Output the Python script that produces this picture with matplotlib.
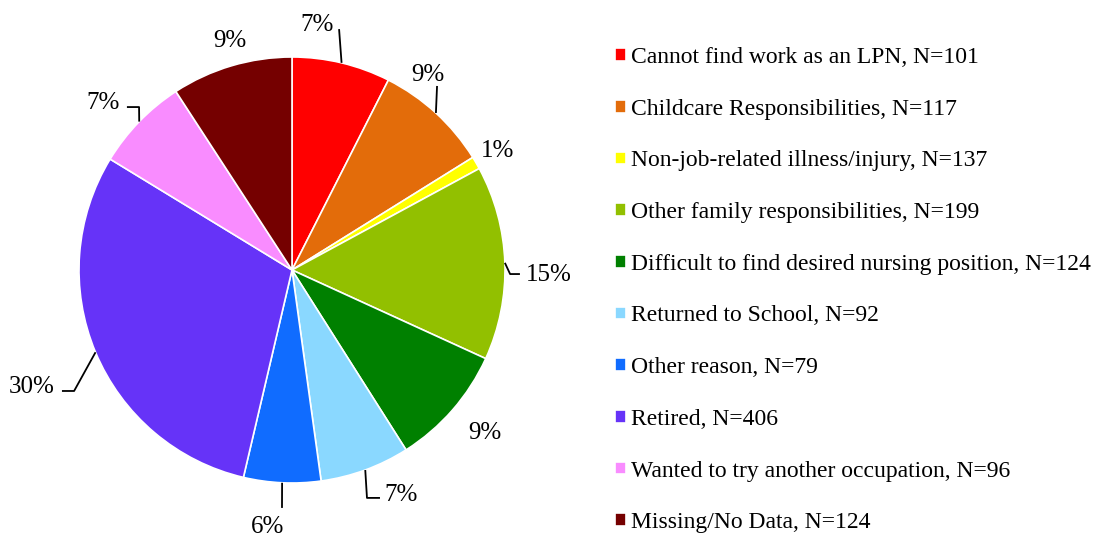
import matplotlib
matplotlib.use("Agg")
import matplotlib.pyplot as plt
import numpy as np

plt.rcParams['font.family'] = ['Liberation Serif', 'DejaVu Serif']

categories = [
    "Cannot find work as an LPN, N=101",
    "Childcare Responsibilities, N=117",
    "Non-job-related illness/injury, N=137",
    "Other family responsibilities, N=199",
    "Difficult to find desired nursing position, N=124",
    "Returned to School, N=92",
    "Other reason, N=79",
    "Retired, N=406",
    "Wanted to try another occupation, N=96",
    "Missing/No Data, N=124",
]
# slice sizes (illness slice is ~1%)
values = [101, 117, 13, 199, 124, 92, 79, 406, 96, 124]
pct_labels = ["7%", "9%", "1%", "15%", "9%", "7%", "6%", "30%", "7%", "9%"]
colors = ["#FF0000", "#E36C0A", "#FFFF00", "#92C000", "#008000",
          "#8AD8FF", "#106CFF", "#6633F8", "#F98CFF", "#750000"]

W, H, DPI = 1110, 537, 100
fig = plt.figure(figsize=(W / DPI, H / DPI), dpi=DPI)
ax = fig.add_axes([0, 0, 1, 1])
cx, cy, R = 292, 270, 213

wedges, _ = ax.pie(values, colors=colors, startangle=90, counterclock=False,
                   radius=1.0, center=(0, 0), frame=True,
                   wedgeprops=dict(edgecolor='white', linewidth=1.2))
ax.set_xlim(-cx / R, (W - cx) / R)
ax.set_ylim(-(H - cy) / R, cy / R)
ax.set_aspect('equal')
ax.axis('off')

# label layout: text position (radius units), alignment, leader polyline points after edge
layout = [
    dict(t=(0.117, 1.150), ha='center', line=[(0.221, 1.131)]),
    dict(t=(0.638, 0.916), ha='center', line=[(0.681, 0.864)]),
    dict(t=(0.967, 0.559), ha='center', line=None),
    dict(t=(1.099, -0.024), ha='left', line=[(1.024, -0.019), (1.070, -0.019)]),
    dict(t=(0.906, -0.765), ha='center', line=None),
    dict(t=(0.432, -1.054), ha='left', line=[(0.352, -1.070), (0.413, -1.070)]),
    dict(t=(-0.113, -1.205), ha='center', line=[(-0.047, -1.117)]),
    dict(t=(-1.113, -0.549), ha='right', line=[(-1.023, -0.568), (-1.080, -0.568)]),
    dict(t=(-0.808, 0.786), ha='right', line=[(-0.718, 0.765), (-0.775, 0.765)]),
    dict(t=(-0.291, 1.075), ha='center', line=None),
]

for w, lab, lo in zip(wedges, pct_labels, layout):
    mid = np.deg2rad((w.theta1 + w.theta2) / 2)
    ex, ey = np.cos(mid), np.sin(mid)
    if lo['line']:
        pts = [(ex, ey)] + lo['line']
        xs, ys = zip(*pts)
        ax.plot(xs, ys, color='black', lw=1.3, solid_capstyle='butt')
    ax.text(lo['t'][0], lo['t'][1], lab, ha=lo['ha'], va='center', fontsize=18)

leg = fig.legend(wedges, categories, loc='upper left',
                 bbox_to_anchor=(615 / W, 1 - 47 / H), frameon=False,
                 fontsize=17, handlelength=0.45, handleheight=0.45,
                 handletextpad=0.22, labelspacing=1.30, borderpad=0, borderaxespad=0)

fig.savefig("out.png", dpi=DPI)
